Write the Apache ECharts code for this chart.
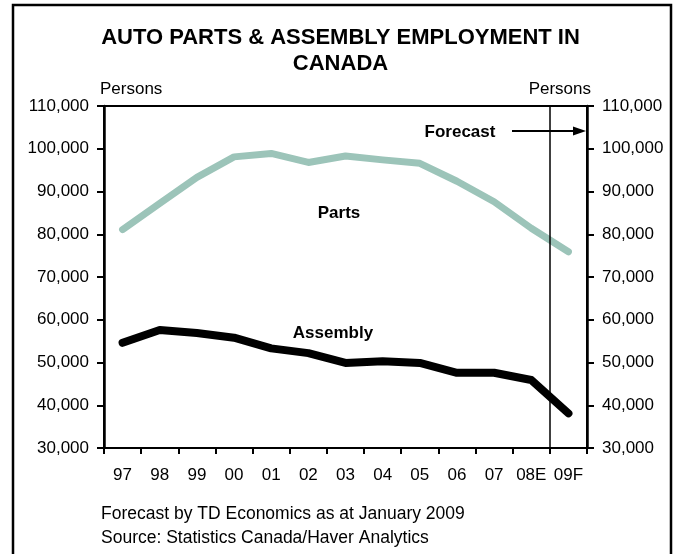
<!DOCTYPE html>
<html><head><meta charset="utf-8">
<script src="https://cdn.jsdelivr.net/npm/echarts@6/dist/echarts.min.js"></script>
<style>html,body{margin:0;padding:0;background:#fff}#c{width:681px;height:554px}</style>
</head><body><div id="c"></div>
<script>
const categories = ['97','98','99','00','01','02','03','04','05','06','07','08E','09F'];
const parts = [81100, 87200, 93300, 98100, 98900, 96800, 98300, 97400, 96600, 92400, 87600, 81400, 75900];
const assembly = [54600, 57600, 56900, 55800, 53300, 52200, 49900, 50300, 49900, 47600, 47600, 45900, 38100];
const forecastStart = 12; // boundary between 08E and 09F
const yMin = 30000, yMax = 110000, yStep = 10000;

const FONT = '"Liberation Sans", Arial, sans-serif';
const FS = 17;
const chart = echarts.init(document.getElementById('c'), null, {renderer: 'canvas'});
const fmt = v => v.toLocaleString('en-US');
const yBase = {
  type: 'value', min: yMin, max: yMax, interval: yStep,
  splitLine: {show: false},
  axisLine: {show: true, lineStyle: {color: '#000', width: 2.5}},
  axisTick: {show: true, inside: false, length: 7, lineStyle: {color: '#000', width: 2}},
  axisLabel: {color: '#000', fontFamily: FONT, fontSize: FS, margin: 15, formatter: fmt}
};
chart.setOption({
  animation: false,
  backgroundColor: '#fff',
  title: {
    text: 'AUTO PARTS & ASSEMBLY EMPLOYMENT IN\nCANADA',
    left: 'center', top: 20,
    textStyle: {fontFamily: FONT, fontWeight: 'bold', fontSize: 22, color: '#000', lineHeight: 26}
  },
  grid: {left: 104, right: 94, top: 106, bottom: 106, show: true, borderColor: '#000', borderWidth: 2, backgroundColor: 'transparent'},
  xAxis: [{
    type: 'category', data: categories, boundaryGap: true,
    axisLine: {lineStyle: {color: '#000', width: 2}},
    axisTick: {show: true, length: 6, alignWithLabel: false, interval: 0, lineStyle: {color: '#000', width: 2}},
    axisLabel: {color: '#000', fontFamily: FONT, fontSize: FS, margin: 19, interval: 0}
  }, {
    type: 'value', min: 0, max: categories.length, show: false
  }],
  yAxis: [Object.assign({position: 'left'}, yBase), Object.assign({position: 'right'}, yBase)],
  series: [{
    name: 'Parts', type: 'line', data: parts, xAxisIndex: 0, yAxisIndex: 0,
    symbol: 'none', lineStyle: {color: '#9cc4b9', width: 7, cap: 'round', join: 'round'}
  }, {
    name: 'Assembly', type: 'line', data: assembly, xAxisIndex: 0, yAxisIndex: 0,
    symbol: 'none', lineStyle: {color: '#000', width: 8, cap: 'round', join: 'round'}
  }, {
    name: 'forecast', type: 'line', data: [], xAxisIndex: 1, yAxisIndex: 0,
    markLine: {silent: true, symbol: 'none', label: {show: false},
      lineStyle: {color: '#000', width: 1.5, type: 'solid'},
      data: [{xAxis: forecastStart}]}
  }],
  graphic: [
    {type: 'rect', shape: {x: 13, y: 5, width: 658, height: 600}, style: {fill: 'none', stroke: '#000', lineWidth: 2.5}, z: 100},
    {type: 'text', style: {x: 100, y: 89, verticalAlign: 'middle', align: 'left', text: 'Persons', font: FS + 'px ' + FONT, fill: '#000'}},
    {type: 'text', style: {x: 591, y: 89, verticalAlign: 'middle', align: 'right', text: 'Persons', font: FS + 'px ' + FONT, fill: '#000'}},
    {type: 'text', style: {x: 339, y: 213, verticalAlign: 'middle', align: 'center', text: 'Parts', font: 'bold ' + FS + 'px ' + FONT, fill: '#000'}},
    {type: 'text', style: {x: 333, y: 333, verticalAlign: 'middle', align: 'center', text: 'Assembly', font: 'bold ' + FS + 'px ' + FONT, fill: '#000'}},
    {type: 'text', style: {x: 460, y: 132, verticalAlign: 'middle', align: 'center', text: 'Forecast', font: 'bold ' + FS + 'px ' + FONT, fill: '#000'}},
    {type: 'line', shape: {x1: 512, y1: 131, x2: 576, y2: 131}, style: {stroke: '#000', lineWidth: 2}},
    {type: 'polygon', shape: {points: [[586, 131], [573, 126.5], [573, 135.5]]}, style: {fill: '#000'}},
    {type: 'text', style: {x: 101, y: 514, verticalAlign: 'middle', align: 'left', text: 'Forecast by TD Economics as at January 2009', font: '17.5px ' + FONT, fill: '#000'}},
    {type: 'text', style: {x: 101, y: 538, verticalAlign: 'middle', align: 'left', text: 'Source: Statistics Canada/Haver Analytics', font: '17.5px ' + FONT, fill: '#000'}}
  ]
});
</script></body></html>
